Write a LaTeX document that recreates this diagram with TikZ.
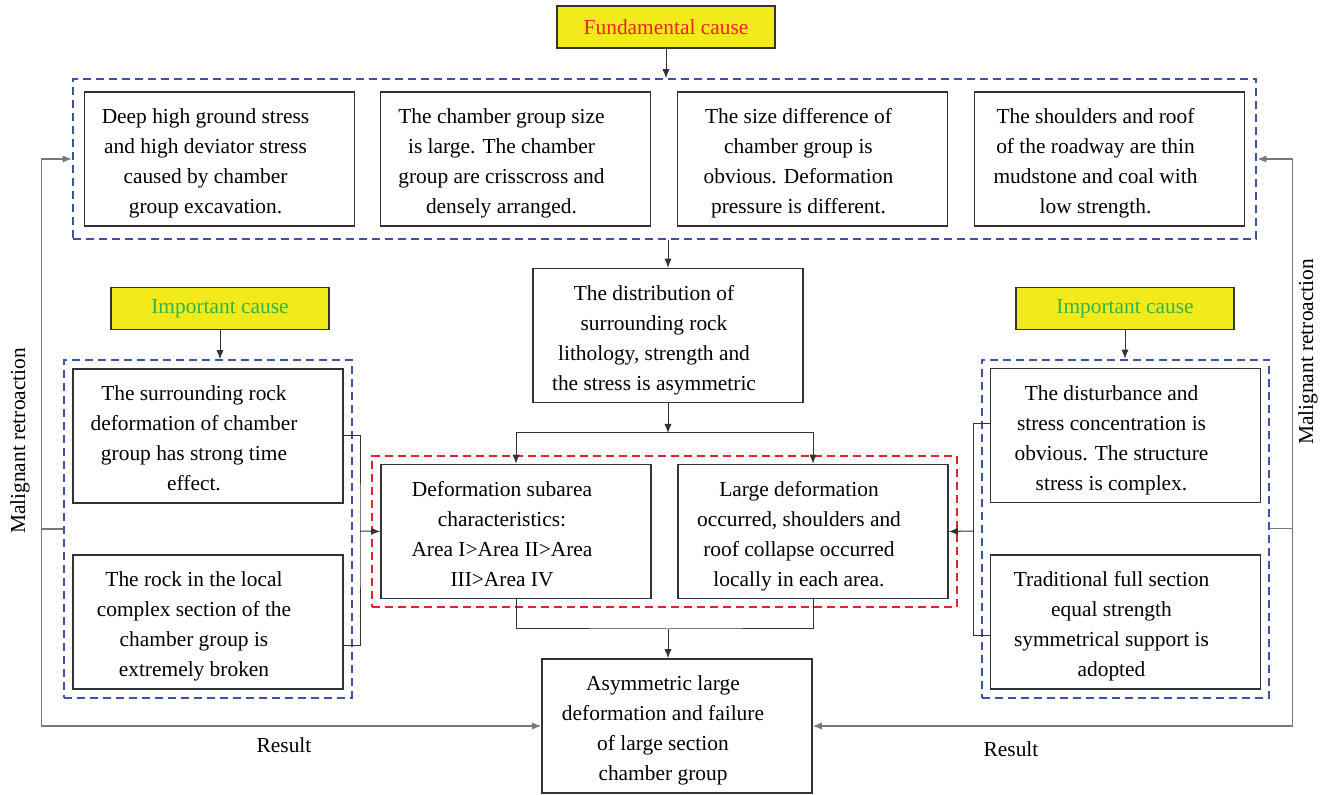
\documentclass[tikz,border=0pt]{standalone}
\usepackage{fontspec}
\setmainfont{Liberation Serif}
\usepackage{tikz}
\usetikzlibrary{arrows.meta}
\usetikzlibrary{fit}
\usetikzlibrary{positioning}
\definecolor{grpblue}{RGB}{58,83,164}
\definecolor{grpred}{RGB}{232,32,42}
\definecolor{causeyel}{RGB}{242,234,26}
\definecolor{causered}{RGB}{238,34,40}
\definecolor{causegreen}{RGB}{50,180,75}
\definecolor{loopgray}{RGB}{120,120,120}
\newcommand{\boxlines}[1]{\raisebox{-2pt}[\height][\depth]{\begin{tabular}{@{}c@{\hspace{14pt}}}#1\end{tabular}}}
\tikzset{
	box/.style={draw=black!80,line width=0.8pt,minimum width=135pt,minimum height=67pt,inner sep=2pt},
	cause/.style={draw=black!80,line width=0.8pt,fill=causeyel,minimum width=109pt,minimum height=21pt},
	bluegrp/.style={draw=grpblue,line width=1pt,dash pattern=on 4pt off 2.5pt,inner sep=4pt},
	redgrp/.style={draw=grpred,line width=1pt,dash pattern=on 4pt off 2.5pt,inner sep=4pt},
	conn/.style={black!80,line width=0.5pt},
	retro/.style={loopgray,line width=0.6pt}
}

\begin{document}
\begin{tikzpicture}[x=0.5pt,y=-0.5pt,>={Latex[length=4.5pt,width=3.6pt]},font=\fontsize{10.7}{15}\selectfont]
	\useasboundingbox (0,0) rectangle (1328,795);
	% fundamental cause
	\node[cause,text=causered] (fund) at (666,27) {Fundamental cause};
	\node[box] (t1) at (219.5,159) {\boxlines{Deep high ground stress\\and high deviator stress\\caused by chamber\\group excavation.}};
	\node[box] (t2) at (515.5,159) {\boxlines{The chamber group size\\is large. The chamber\\group are crisscross and\\densely arranged.}};
	\node[box] (t3) at (812.5,159) {\boxlines{The size difference of\\chamber group is\\obvious. Deformation\\pressure is different.}};
	\node[box] (t4) at (1109.5,159) {\boxlines{The shoulders and roof\\of the roadway are thin\\mudstone and coal with\\low strength.}};
	\node[bluegrp,inner xsep=5.5pt,inner ysep=6pt,fit=(t1)(t4)] (topgrp) {};
	%
	\node[box] (mid) at (668,335.5) {\boxlines{The distribution of\\surrounding rock\\lithology, strength and\\the stress is asymmetric}};
	\node[box] (subL) at (516,531.5) {\boxlines{Deformation subarea\\characteristics:\\Area I>Area II>Area\\III>Area IV}};
	\node[box] (subR) at (813,531.5) {\boxlines{Large deformation\\occurred, shoulders and\\roof collapse occurred\\locally in each area.}};
	\node[redgrp,fit=(subL)(subR)] (redgrp) {};
	\node[box] (res) at (677,726) {\boxlines{Asymmetric large\\deformation and failure\\of large section\\chamber group}};
	% important causes
	\node[cause,text=causegreen] (impL) at (220,308.5) {Important cause};
	\node[box] (L1) at (208,436) {\boxlines{The surrounding rock\\deformation of chamber\\group has strong time\\effect.}};
	\node[box] (L2) at (208,622) {\boxlines{The rock in the local\\complex section of the\\chamber group is\\extremely broken}};
	\node[bluegrp,fit=(L1)(L2)] (leftgrp) {};
	\node[cause,text=causegreen] (impR) at (1125,308.5) {Important cause};
	\node[box] (R1) at (1125.5,435.5) {\boxlines{The disturbance and\\stress concentration is\\obvious. The structure\\stress is complex.}};
	\node[box] (R2) at (1125.5,622) {\boxlines{Traditional full section\\equal strength\\symmetrical support is\\adopted}};
	\node[bluegrp,fit=(R1)(R2)] (rightgrp) {};
	%
	\node[rotate=90] (malL) at (20,441) {Malignant retroaction};
	\node[rotate=90] (malR) at (1308,352) {Malignant retroaction};
	\node (resL) at (284,745) {Result};
	\node (resR) at (1011,749) {Result};
	% connectors
	\draw[conn,->] (fund.south) -- (fund.south |- topgrp.north);
	\draw[conn,->] (mid.north |- topgrp.south) -- (mid.north);
	\coordinate (split) at (668,433);
	\coordinate (join) at (668,629);
	\draw[conn,->] (mid.south) -- (split);
	\draw[conn,->] (split) -| (subL.north);
	\draw[conn,->] (split) -| (subR.north);
	\draw[conn] (subL.south) |- (join) -| (subR.south);
	\draw[conn,->] (join) -- (join |- res.north);
	%
	\draw[conn,->] (impL.south) -- (impL.south |- leftgrp.north);
	\draw[conn,->] (impR.south) -- (impR.south |- rightgrp.north);
	\coordinate (brL) at (360,531);
	\coordinate (brR) at (973,531);
	\draw[conn] (L1.east) -| (brL) |- ([yshift=-12pt]L2.east);
	\draw[conn,->] (brL) -- (subL.west);
	\draw[conn] ([yshift=6pt]R1.west) -| (brR) |- ([yshift=-7pt]R2.west);
	\draw[conn,->] (brR) -- (subR.east);
	% malignant retroaction
	\coordinate (loopL) at ([xshift=-11pt]leftgrp.west);
	\coordinate (loopR) at ([xshift=11pt]rightgrp.east);
	\draw[retro] (leftgrp.west) -- (loopL);
	\draw[retro,->] (loopL) -- (loopL |- topgrp.west) -- (topgrp.west);
	\draw[retro,->] (loopL) -- (loopL |- res.west) -- (res.west);
	\draw[retro] (rightgrp.east) -- (loopR);
	\draw[retro,->] (loopR) -- (loopR |- topgrp.east) -- (topgrp.east);
	\draw[retro,->] (loopR) -- (loopR |- res.east) -- (res.east);
\end{tikzpicture}
\end{document}
